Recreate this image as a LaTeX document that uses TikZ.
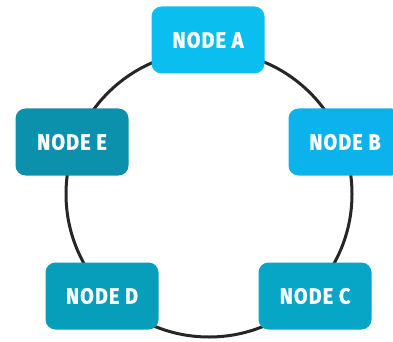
\documentclass[tikz,border=0pt]{standalone}
\usepackage{fontspec}
\setmainfont{Fira Sans}[BoldFeatures={FakeBold=1.2, FakeStretch=0.9, LetterSpace=5}]
\usepackage{xcolor}
\definecolor{cyanA}{RGB}{10,190,240}
\definecolor{cyanB}{RGB}{12,178,236}
\definecolor{tealC}{RGB}{8,166,198}
\definecolor{tealD}{RGB}{6,158,186}
\definecolor{tealE}{RGB}{12,145,172}

\begin{document}
\begin{tikzpicture}[x=1pt, y=-1pt,
	box/.style={rounded corners=10pt, minimum width=113pt, minimum height=67pt, inner sep=0pt,
		text=white, font=\bfseries\fontsize{22}{22}\selectfont}]
	\useasboundingbox (0,0) rectangle (393,342);
	\coordinate (O) at (209,194);
	\draw [line width=3pt, black!85] (O) circle (143pt);
	\node [box, fill=cyanA] (A) at (208,40) {NODE A};
	\node [box, fill=cyanB] (B) at (345,142) {NODE B};
	\node [box, fill=tealC] (C) at (315,296) {NODE C};
	\node [box, fill=tealD] (D) at (102,296) {NODE D};
	\node [box, fill=tealE] (E) at (72,142) {NODE E};
\end{tikzpicture}
\end{document}
